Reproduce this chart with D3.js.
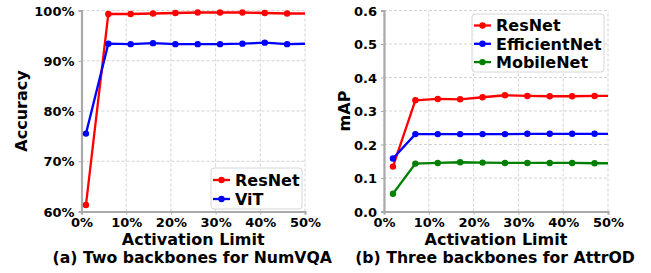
<!DOCTYPE html>
<html>
<head>
<meta charset="utf-8">
<script src="https://cdn.jsdelivr.net/npm/d3@7"></script>
<style>
  body { margin: 0; background: #fff; }
  svg text { font-family: "DejaVu Sans", sans-serif; font-weight: bold; fill: #000; }
</style>
</head>
<body>
<svg width="651" height="273"></svg>
<script>
// panel (a): NumVQA accuracy vs activation limit
const limitsA = [1, 6, 11, 16, 21, 26, 31, 36, 41, 46, 51];
const resnetA = [61.3, 99.3, 99.3, 99.4, 99.5, 99.6, 99.6, 99.6, 99.5, 99.4, 99.4];
const vitA = [75.5, 93.4, 93.3, 93.5, 93.3, 93.3, 93.3, 93.4, 93.6, 93.3, 93.4];

// panel (b): AttrOD mAP vs activation limit
const limitsB = [2, 7, 12, 17, 22, 27, 32, 37, 42, 47, 52];
const resnetB = [0.134, 0.332, 0.336, 0.335, 0.341, 0.347, 0.345, 0.344, 0.344, 0.345, 0.345];
const effnetB = [0.158, 0.231, 0.231, 0.231, 0.231, 0.231, 0.232, 0.232, 0.232, 0.232, 0.232];
const mobileB = [0.053, 0.143, 0.145, 0.147, 0.146, 0.145, 0.145, 0.145, 0.145, 0.144, 0.144];

const xTicks = [0, 10, 20, 30, 40, 50];
const yTicksA = [60, 70, 80, 90, 100];
const yTicksB = [0, 0.1, 0.2, 0.3, 0.4, 0.5, 0.6];

const svg = d3.select('svg');

function panel(opts) {
  const g = svg.append('g');
  const x = d3.scaleLinear().domain([0, 50]).range([opts.x0, opts.x1]);
  const y = d3.scaleLinear().domain(opts.yDomain).range([211.5, 10.5]);
  const clipId = 'clip-' + opts.id;

  g.append('clipPath').attr('id', clipId)
    .append('rect')
    .attr('x', opts.x0 - 6).attr('y', 0)
    .attr('width', opts.x1 - opts.x0 + 6).attr('height', 220);

  // dashed grid
  g.selectAll('.vgrid').data(xTicks).enter().append('line')
    .attr('x1', d => x(d)).attr('x2', d => x(d))
    .attr('y1', y.range()[0]).attr('y2', y.range()[1])
    .attr('stroke', '#c8c8c8').attr('stroke-width', 0.8)
    .attr('stroke-dasharray', '3,2');
  g.selectAll('.hgrid').data(opts.yTicks).enter().append('line')
    .attr('x1', opts.x0).attr('x2', opts.x1)
    .attr('y1', d => y(d)).attr('y2', d => y(d))
    .attr('stroke', '#c8c8c8').attr('stroke-width', 0.8)
    .attr('stroke-dasharray', '3,2');

  // axes
  const xAxis = d3.axisBottom(x).tickValues(xTicks).tickFormat(d => d + '%')
    .tickSize(3).tickPadding(1);
  const yAxis = d3.axisLeft(y).tickValues(opts.yTicks).tickFormat(opts.yFormat)
    .tickSize(3).tickPadding(4);
  const gx = g.append('g').attr('transform', `translate(0,${y.range()[0]})`).call(xAxis);
  const gy = g.append('g').attr('transform', `translate(${opts.x0},0)`).call(yAxis);
  [gx, gy].forEach((ax) => {
    ax.select('.domain').attr('stroke', '#aaa').attr('stroke-width', 2.2);
    ax.selectAll('.tick line').attr('stroke', '#aaa');
    ax.selectAll('.tick text').style('font-size', '13px');
  });
  gx.selectAll('.tick text').attr('dy', '0.9em');
  gy.selectAll('.tick text').attr('dy', '0.36em');

  // series
  const plot = g.append('g').attr('clip-path', `url(#${clipId})`);
  opts.series.forEach((s) => {
    const pts = opts.limits.map((v, i) => [v, s.values[i]]);
    plot.append('path')
      .datum(pts)
      .attr('fill', 'none')
      .attr('stroke', s.color)
      .attr('stroke-width', 2.3)
      .attr('d', d3.line().x(d => x(d[0])).y(d => y(d[1])));
    plot.selectAll(null).data(pts).enter().append('circle')
      .attr('cx', d => x(d[0])).attr('cy', d => y(d[1]))
      .attr('r', 3.2).attr('fill', s.color);
  });

  // labels
  const cx = (opts.x0 + opts.x1) / 2;
  g.append('text')
    .attr('x', cx).attr('y', 245)
    .attr('text-anchor', 'middle').style('font-size', '16px')
    .text('Activation Limit');
  g.append('text')
    .attr('x', cx - 1).attr('y', 263)
    .attr('text-anchor', 'middle').style('font-size', '15.7px')
    .text(opts.caption);
  g.append('text')
    .attr('transform', `translate(${opts.yLabelX},111) rotate(-90)`)
    .attr('text-anchor', 'middle').style('font-size', '16px')
    .text(opts.yLabel);

  // legend
  const lg = g.append('g');
  lg.append('rect')
    .attr('x', opts.legend.x).attr('y', opts.legend.y)
    .attr('width', opts.legend.w).attr('height', opts.legend.h)
    .attr('rx', 3)
    .attr('fill', 'rgba(255,255,255,0.8)')
    .attr('stroke', '#d6d6d6').attr('stroke-width', 1);
  opts.series.forEach((s, i) => {
    const cy = opts.legend.y + opts.legend.first + i * opts.legend.step;
    const lx = opts.legend.x + 2;
    lg.append('line')
      .attr('x1', lx).attr('x2', lx + 17)
      .attr('y1', cy).attr('y2', cy)
      .attr('stroke', s.color).attr('stroke-width', 2.3);
    lg.append('circle').attr('cx', lx + 8.5).attr('cy', cy).attr('r', 3.2).attr('fill', s.color);
    lg.append('text')
      .attr('x', lx + 22).attr('y', cy).attr('dy', '0.36em')
      .style('font-size', '16px').text(s.name);
  });
}

panel({
  id: 'a',
  x0: 81.5, x1: 305,
  yDomain: [60, 100],
  yTicks: yTicksA,
  yFormat: d => d + '%',
  limits: limitsA,
  series: [
    {name: 'ResNet', color: '#ff0000', values: resnetA},
    {name: 'ViT', color: '#0000ff', values: vitA},
  ],
  yLabel: 'Accuracy', yLabelX: 27,
  caption: '(a) Two backbones for NumVQA',
  legend: {x: 211, y: 168, w: 91, h: 41, first: 12, step: 19},
});

panel({
  id: 'b',
  x0: 384, x1: 608,
  yDomain: [0, 0.6],
  yTicks: yTicksB,
  yFormat: d3.format('.1f'),
  limits: limitsB,
  series: [
    {name: 'ResNet', color: '#ff0000', values: resnetB},
    {name: 'EfficientNet', color: '#0000ff', values: effnetB},
    {name: 'MobileNet', color: '#008000', values: mobileB},
  ],
  yLabel: 'mAP', yLabelX: 350,
  caption: '(b) Three backbones for AttrOD',
  legend: {x: 472, y: 14, w: 132, h: 58, first: 11.5, step: 18.3},
});
</script>
</body>
</html>
